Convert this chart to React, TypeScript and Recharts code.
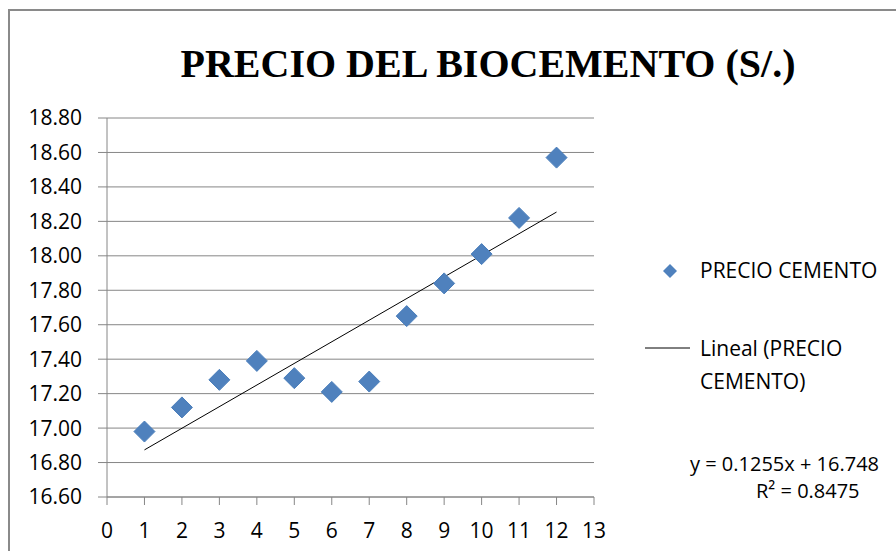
import {
  ScatterChart, Scatter, XAxis, YAxis, CartesianGrid, ReferenceLine, Legend,
} from "recharts"

// datos
const meses = [1, 2, 3, 4, 5, 6, 7, 8, 9, 10, 11, 12]
const precioCemento = [16.98, 17.12, 17.28, 17.39, 17.29, 17.21, 17.27, 17.65, 17.84, 18.01, 18.22, 18.57]
const yTicks = [16.6, 16.8, 17.0, 17.2, 17.4, 17.6, 17.8, 18.0, 18.2, 18.4, 18.6, 18.8]
const xTicks = [0, 1, 2, 3, 4, 5, 6, 7, 8, 9, 10, 11, 12, 13]

// tendencia lineal (etiqueta del gráfico)
const pendiente = 0.1255
const intercepto = 16.748
const r2 = 0.8475

const data = meses.map((m, i) => ({ x: m, y: precioCemento[i] }))
const xIni = meses[0]
const xFin = meses[meses.length - 1]

const FONT = "'Open Sans', sans-serif"
const AZUL = "#4F81BD"
const GRIS = "#868686"

function Rombo(props: any) {
  const { cx, cy } = props
  const r = 10.5
  return (
    <path
      d={`M${cx},${cy - r}L${cx + r},${cy}L${cx},${cy + r}L${cx - r},${cy}Z`}
      fill={AZUL}
      stroke="#4A7EBB"
      strokeWidth={1}
    />
  )
}

function Leyenda() {
  const txt = { position: "absolute" as const, left: 60, fontSize: 21, lineHeight: "24px", color: "#000", whiteSpace: "nowrap" as const }
  return (
    <div style={{ position: "relative", width: 256, height: 150, fontFamily: FONT }}>
      <svg width={256} height={150} style={{ position: "absolute", left: 0, top: 0 }}>
        <path d="M30,14L37,21L30,28L23,21Z" fill={AZUL} />
        <line x1={5} y1={98} x2={50} y2={98} stroke="#000" strokeWidth={1} />
      </svg>
      <div style={{ ...txt, top: 8 }}>PRECIO CEMENTO</div>
      <div style={{ ...txt, top: 86 }}>Lineal (PRECIO</div>
      <div style={{ ...txt, top: 119 }}>CEMENTO)</div>
    </div>
  )
}

export default function App() {
  return (
    <div style={{ position: "absolute", left: 0, top: 0, width: 896, height: 551, overflow: "hidden", background: "#fff" }}>
      <div
        style={{
          position: "absolute", left: 8, top: 9, width: 920, height: 580,
          border: "2px solid #8a8a8a", boxSizing: "border-box",
        }}
      />
      <div
        style={{
          position: "absolute", left: 0, top: 40, width: 976, textAlign: "center",
          fontFamily: "'Liberation Serif', 'Times New Roman', serif", fontWeight: "bold",
          fontSize: 40, lineHeight: "48px", color: "#000",
        }}
      >
        PRECIO DEL BIOCEMENTO (S/.)
      </div>
      <ScatterChart
        width={896}
        height={551}
        margin={{ top: 118, right: 302, bottom: 14, left: 17 }}
        style={{ position: "absolute", left: 0, top: 0 }}
      >
        <CartesianGrid vertical={false} stroke={GRIS} strokeWidth={1} />
        <XAxis
          type="number"
          dataKey="x"
          domain={[0, 13]}
          ticks={xTicks}
          interval={0}
          height={40}
          tickSize={8}
          tickMargin={18}
          stroke={GRIS}
          tick={{ fill: "#000", fontSize: 21, fontFamily: FONT }}
        />
        <YAxis
          type="number"
          dataKey="y"
          domain={[16.6, 18.8]}
          ticks={yTicks}
          interval={0}
          width={90}
          tickSize={9}
          tickMargin={16}
          stroke={GRIS}
          tickFormatter={(v: number) => v.toFixed(2)}
          tick={{ fill: "#000", fontSize: 21, fontFamily: FONT }}
        />
        <ReferenceLine
          segment={[
            { x: xIni, y: intercepto + pendiente * xIni },
            { x: xFin, y: intercepto + pendiente * xFin },
          ]}
          stroke="#000"
          strokeWidth={1}
        />
        <Scatter
          name="PRECIO CEMENTO"
          data={data}
          shape={Rombo}
          isAnimationActive={false}
        />
        <Legend
          layout="horizontal"
          align="center"
          verticalAlign="middle"
          content={() => <Leyenda />}
          wrapperStyle={{ left: 640, top: 250, width: 256, height: 150 }}
        />
      </ScatterChart>
      <div
        style={{
          position: "absolute", left: 690, top: 450, fontFamily: FONT, fontSize: 20,
          lineHeight: "27px", color: "#000", whiteSpace: "nowrap",
        }}
      >
        <div>y = {pendiente}x + {intercepto}</div>
        <div style={{ position: "absolute", left: 66, top: 27 }}>R² = {r2}</div>
      </div>
    </div>
  )
}
